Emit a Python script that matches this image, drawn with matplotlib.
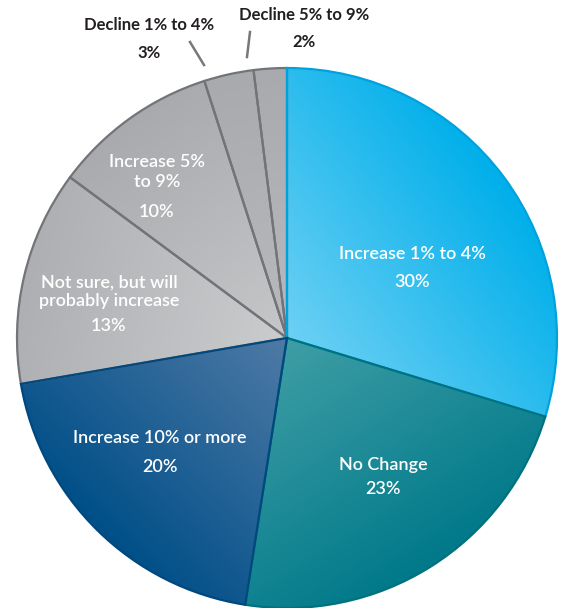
import numpy as np
import matplotlib
matplotlib.use("Agg")
import matplotlib.pyplot as plt
from matplotlib.colors import LinearSegmentedColormap

labels = ["Increase 1% to 4%", "No Change", "Increase 10% or more",
          "Not sure, but will\nprobably increase", "Increase 5%\nto 9%",
          "Decline 1% to 4%", "Decline 5% to 9%"]
shares = [30, 23, 20, 13, 10, 3, 2]

# light near centre, dark at rim, outline
light = ["#6dd0f4", "#3f9ea5", "#4f7aa6", "#cbccce", "#c6c7c9", "#b9babd", "#b9babd"]
dark = ["#00afea", "#00798a", "#004f88", "#aeafb2", "#a9aaad", "#a9aaad", "#a9aaad"]
edge = ["#00a2de", "#00717e", "#00487e", "#737477", "#737477", "#737477", "#737477"]

W, H = 563, 608
cx, cy, R = 287, H - 338, 270

fig = plt.figure(figsize=(W / 100, H / 100), dpi=100)
ax = fig.add_axes([0, 0, 1, 1])

wedges, _ = ax.pie(shares, center=(cx, cy), radius=R, startangle=90,
                   counterclock=False, wedgeprops=dict(facecolor="none", linewidth=1.6))
ax.set_xlim(0, W)
ax.set_ylim(0, H)
ax.set_aspect("equal")
ax.axis("off")

# gradient fill for each slice, running along its bisector
xs = np.linspace(cx - R, cx + R, 400)
ys = np.linspace(cy - R, cy + R, 400)
gx, gy = np.meshgrid(xs, ys)
for i, w in enumerate(wedges):
    mid = np.deg2rad((w.theta1 + w.theta2) / 2)
    t = ((gx - cx) * np.cos(mid) + (gy - cy) * np.sin(mid)) / R
    t = np.clip(t, 0, 1)
    cmap = LinearSegmentedColormap.from_list("g%d" % i, [light[i], dark[i]])
    im = ax.imshow(t, cmap=cmap, vmin=0, vmax=1, origin="lower",
                   extent=(cx - R, cx + R, cy - R, cy + R), zorder=1, interpolation="bilinear")
    im.set_clip_path(w)
    # outline sits above the fills
    w.set_edgecolor(edge[i])
    w.set_zorder(3 + (i < 3))

font = "Lato"
inner = dict(color="white", ha="center", va="center", fontsize=13, family=font,
             fontweight="semibold", zorder=5)

def put(x, y, s, **kw):
    ax.text(x, H - y, s, **kw)

put(412, 254, labels[0], **inner)
put(412, 282, "%d%%" % shares[0], **inner)
put(383, 465, labels[1], **inner)
put(383, 489, "%d%%" % shares[1], **inner)
put(160, 438, labels[2], **inner)
put(160, 467, "%d%%" % shares[2], **inner)
put(109, 292, labels[3], linespacing=1.2, **inner)
put(109, 326, "%d%%" % shares[3], **inner)
put(157, 172, labels[4], linespacing=1.3, **inner)
put(157, 212, "%d%%" % shares[4], **inner)

outer = dict(color="#231f20", ha="center", va="center", fontsize=12, family=font,
             fontweight="bold", zorder=5)
put(149, 25, labels[5], **outer)
put(149, 53, "%d%%" % shares[5], **outer)
put(304, 15, labels[6], **outer)
put(304, 42, "%d%%" % shares[6], **outer)

# leader lines to the two thin slices
ax.plot([190, 204], [H - 42, H - 65], color="#77787b", lw=1.8, zorder=5)
ax.plot([250, 247], [H - 32, H - 57], color="#77787b", lw=1.8, zorder=5)

fig.savefig("out.png", dpi=100)
